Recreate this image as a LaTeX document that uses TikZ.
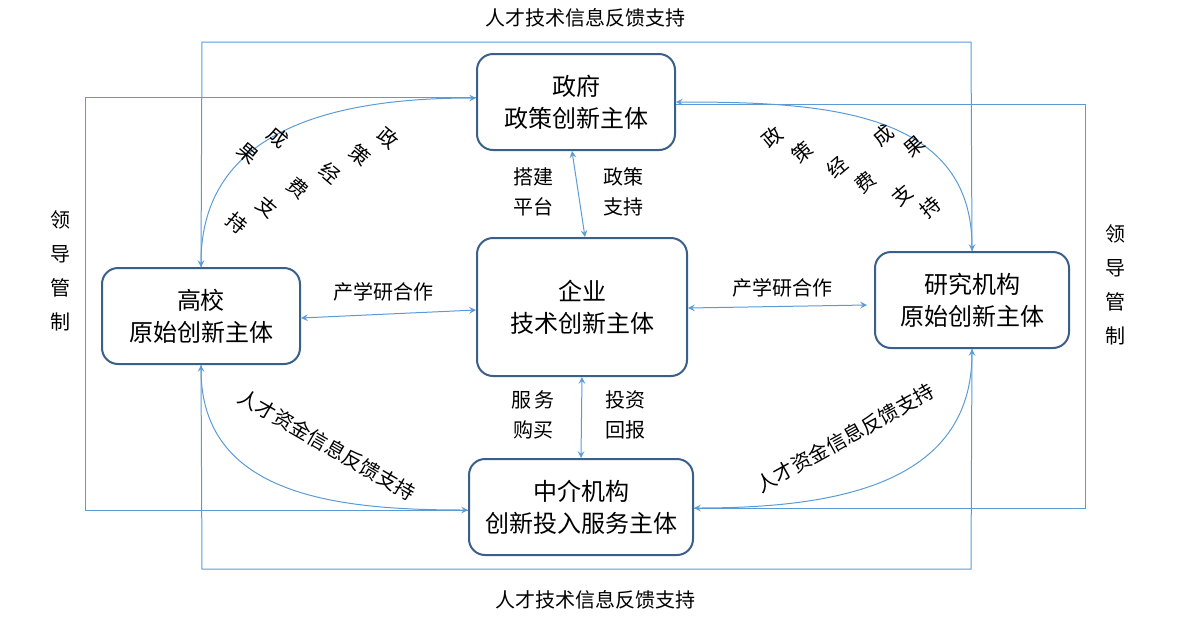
\documentclass[tikz,border=0pt]{standalone}
\usepackage{fontspec}
\newfontfamily\cjk{Noto Sans CJK SC}
\usetikzlibrary{positioning}
\definecolor{boxblue}{HTML}{3A5F8A}
\definecolor{lineblue}{HTML}{5B9BD5}
\tikzset{
  box/.style={draw=boxblue,line width=1pt,rounded corners=8pt,align=center,
    font=\cjk\fontsize{12}{16}\selectfont,minimum width=99pt,minimum height=48pt},
  link/.style={lineblue,line width=0.5pt},
  arr/.style={link,<->,>=stealth},
  lbl/.style={font=\cjk\fontsize{10}{15}\selectfont,align=center},
  ch/.style={font=\cjk\fontsize{10}{10}\selectfont,inner sep=0pt}
}
\begin{document}
\begin{tikzpicture}[x=0.5pt,y=-0.5pt]
\useasboundingbox (0,0) rectangle (1180,622);
% boxes
\node[box] (gov) at (576,102) {政府\\政策创新主体};
\node[box,minimum width=105pt,minimum height=69pt] (ent) at (582,307) {企业\\技术创新主体};
\node[box] (uni) at (201,316) {高校\\原始创新主体};
\node[box,minimum width=97pt] (inst) at (972,300) {研究机构\\原始创新主体};
\node[box,minimum width=112pt] (mid) at (581,507) {中介机构\\创新投入服务主体};

% outer feedback lines
\coordinate (tl) at (202,42);
\coordinate (tr) at (971,42);
\coordinate (bl) at (202,569);
\coordinate (br) at (971,569);
\draw[link] (uni.north) -- (tl) -- (tr) -- (inst.north);
\draw[link] (uni.south) -- (bl) -- (br) -- (inst.south);
\coordinate (lt) at (85,97);
\coordinate (lb) at (85,510);
\draw[link] ([yshift=2.5pt]gov.west) -- (lt) -- (lb) -- ([yshift=-1.5pt]mid.west);
\coordinate (rt) at (1085,104);
\coordinate (rb) at (1085,508);
\draw[link] ([yshift=-1pt]gov.east) -- (rt) -- (rb) -- ([yshift=-0.5pt]mid.east);

% curved links
\draw[arr] ([yshift=2pt]gov.west) to[out=180,in=90,looseness=1.1] (uni.north);
\draw[arr] (gov.east) to[out=0,in=90,looseness=1.1] (inst.north);
\draw[arr] (uni.south) to[out=-90,in=180,looseness=1.1] ([yshift=-1.5pt]mid.west);
\draw[arr] (inst.south) to[out=-90,in=0,looseness=1.1] ([yshift=-0.5pt]mid.east);

% straight links
\draw[arr] ([xshift=-2pt]gov.south) -- ([xshift=1.5pt]ent.north);
\draw[arr] (ent.south) -- (mid.north);
\draw[arr] ([yshift=-1pt]uni.east) -- ([yshift=-1.5pt]ent.west);
\draw[arr] ([yshift=-0.5pt]ent.east) -- ([xshift=-3.5pt,yshift=-2.5pt]inst.west);

% labels
\node[lbl] (fbtop) at (585,18) {人才技术信息反馈支持};
\node[lbl] (fbbot) at (595,600) {人才技术信息反馈支持};
\node[lbl,font=\cjk\fontsize{10}{17}\selectfont] (lead1) at (60,271) {领\\导\\管\\制};
\node[lbl,font=\cjk\fontsize{10}{17}\selectfont] (lead2) at (1115,285) {领\\导\\管\\制};
\node[lbl] (plat) at (533,192) {搭建\\平台};
\node[lbl] (supp) at (623,192) {政策\\支持};
\node[lbl] (serv) at (533,415) {服\,务\\购买};
\node[lbl] (inv) at (625,415) {投资\\回报};
\node[lbl] (coop1) at (383,292) {产学研合作};
\node[lbl] (coop2) at (782,288) {产学研合作};
\node[lbl,rotate=-30,inner sep=0pt] (fbl) at (327,445) {人才资金信息反馈支持};
\node[lbl,rotate=29,inner sep=0pt] (fbr) at (845,438) {人才资金信息反馈支持};

% diagonal characters
\foreach \c/\x/\y in {政/388/138,策/360/155,经/330/173,费/298/188,支/267/207,持/237/223,成/278/137,果/248/153}
  \node[ch,rotate=-40] at (\x,\y) {\c};
\foreach \c/\x/\y in {政/772/137,策/802/152,经/837/167,费/865/182,支/902/195,持/930/207,成/883/135,果/915/147}
  \node[ch,rotate=40] at (\x,\y) {\c};
\end{tikzpicture}
\end{document}
